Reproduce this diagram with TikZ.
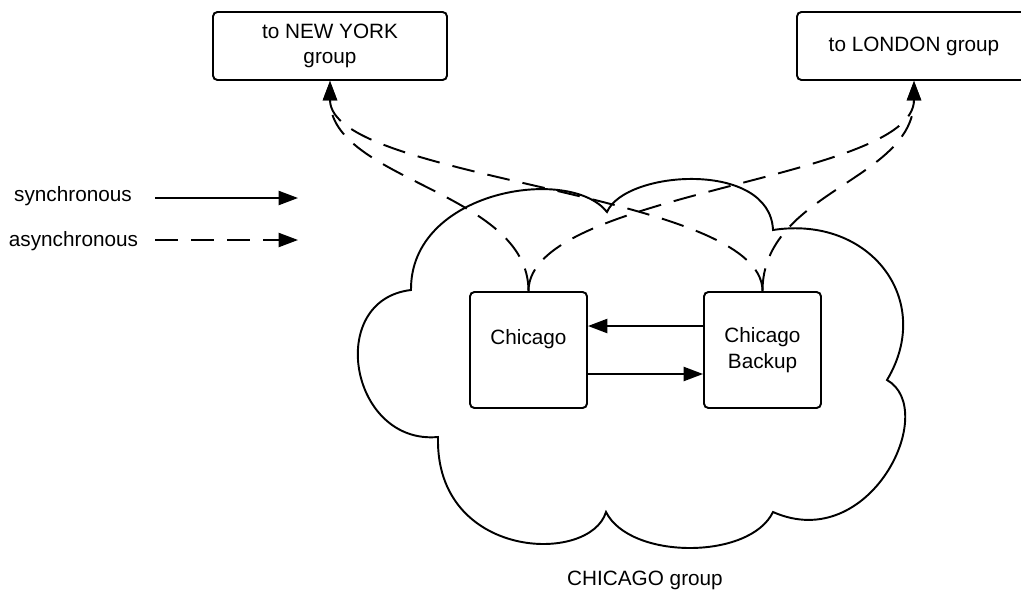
\documentclass[tikz,border=0pt]{standalone}
\usepackage{fontspec}
\setmainfont{Liberation Sans}
\usetikzlibrary{arrows.meta}
\begin{document}
\begin{tikzpicture}[x=0.02cm,y=-0.02cm,
	every node/.style={font=\fontsize{11.8}{14.5}\selectfont},
	groupbox/.style={draw,rounded corners=2.5pt,line width=1.1pt,minimum width=4.68cm,minimum height=1.36cm,align=center,inner sep=0},
	sitebox/.style={draw,rounded corners=2.5pt,line width=1.1pt,minimum width=2.34cm,minimum height=2.32cm,align=center,inner sep=0},
	sync/.style={line width=1.1pt,-{Triangle[length=11pt,width=8pt]}},
	async/.style={sync,dash pattern=on 13pt off 7.5pt}]
\useasboundingbox (0,0) rectangle (1021,592);
% the Chicago group
\draw[line width=1.1pt] (411,290) .. controls (410,190) and (570,165) .. (607,212)
	.. controls (625,170) and (770,160) .. (773,230)
	.. controls (870,215) and (935,300) .. (887,380)
	.. controls (940,410) and (870,555) .. (773,512)
	.. controls (750,560) and (630,560) .. (606,512)
	.. controls (590,565) and (435,560) .. (438,437)
	.. controls (350,445) and (325,300) .. (411,290) -- cycle;
\node (cloudlbl) at (645,580) {CHICAGO group};
\node[groupbox] (ny) at (330,46) {to NEW YORK\\group};
\node[groupbox] (london) at (914,46) {to LONDON group};
\node[sitebox] (chicago) at (528.5,350) {Chicago\\ \mbox{}};
\node[sitebox] (backup) at (762.5,350) {Chicago\\Backup};
% legend
\node (synclbl) at (73,196) {synchronous};
\node (asynclbl) at (73.5,241) {asynchronous};
\coordinate (syncA) at (155,198);
\coordinate (syncB) at (298,198);
\coordinate (asyncA) at (155,240);
\coordinate (asyncB) at (298,240);
\draw[sync] (syncA) -- (syncB);
\draw[async] (asyncA) -- (asyncB);
% replication
\draw[sync] ([yshift=0.48cm]backup.west) -- ([yshift=0.48cm]chicago.east);
\draw[sync] ([yshift=-0.48cm]chicago.east) -- ([yshift=-0.48cm]backup.west);
\draw[async] (chicago.north) .. controls +(0,-100) and +(0,100) .. (ny.south);
\draw[async] (chicago.north) .. controls +(0,-100) and +(0,100) .. (london.south);
\draw[async] (backup.north) .. controls +(0,-100) and +(0,100) .. (ny.south);
\draw[async] (backup.north) .. controls +(0,-100) and +(0,100) .. (london.south);
\end{tikzpicture}
\end{document}
